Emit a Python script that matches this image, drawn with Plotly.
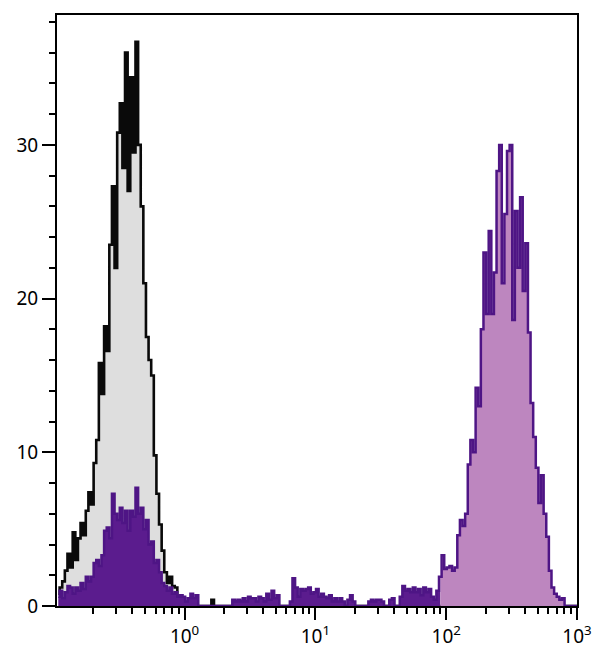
import plotly.graph_objects as go
import numpy as np

# Histogram channels: log10 bin centres start and step (channel scale)
LOG_BIN_START = -0.965
LOG_BIN_STEP = 0.02
N_BINS = 200

# Isotype control (black outline, grey fill) counts per channel
isotype_counts = [
    0.8, 1.2, 1.6, 2.3, 3.4, 2.5, 4.8, 3.0, 4.4, 5.4,
    4.6, 6.2, 7.4, 6.6, 9.3, 10.8, 15.8, 13.8, 18.2, 16.6,
    23.5, 27.3, 22.0, 30.8, 32.7, 28.5, 36.0, 27.0, 34.4, 29.5,
    36.7, 30.0, 26.0, 21.0, 17.5, 16.0, 15.0, 9.8, 7.3, 5.3,
    3.6, 2.2, 1.5, 1.9, 1.3, 1.2, 0.5, 0, 0, 0,
    0, 0, 0, 0, 0, 0, 0, 0, 0, 0.4,
    0, 0, 0, 0, 0, 0, 0, 0, 0, 0,
    0, 0, 0, 0, 0, 0, 0, 0, 0, 0,
    0, 0, 0, 0, 0, 0, 0, 0, 0, 0,
    0, 0, 0, 0, 0, 0, 0, 0, 0, 0,
    0, 0, 0, 0, 0, 0, 0, 0, 0, 0,
    0, 0, 0, 0, 0, 0, 0, 0, 0, 0,
    0, 0, 0, 0, 0, 0, 0, 0, 0, 0,
    0, 0, 0, 0, 0, 0, 0, 0, 0, 0,
    0, 0, 0, 0, 0, 0, 0, 0, 0, 0,
    0, 0, 0, 0, 0, 0, 0, 0, 0, 0,
    0, 0, 0, 0, 0, 0, 0, 0, 0, 0,
    0, 0, 0, 0, 0, 0, 0, 0, 0, 0,
    0, 0, 0, 0, 0, 0, 0, 0, 0, 0,
    0, 0, 0, 0, 0, 0, 0, 0, 0, 0,
]

# Stained sample (purple) counts per channel
stained_counts = [
    0.6, 1.0, 0.5, 0.9, 1.3, 1.2, 0.8, 1.2, 1.0, 1.5,
    1.1, 1.9, 1.6, 1.9, 2.8, 3.0, 2.6, 3.3, 4.9, 5.1,
    4.4, 7.3, 6.0, 5.6, 6.4, 5.4, 6.2, 4.9, 6.2, 5.8,
    7.7, 6.0, 6.4, 5.0, 5.6, 4.0, 4.2, 2.8, 3.0, 2.2,
    1.5, 1.3, 1.0, 1.2, 0.8, 0.9, 0.6, 0.7, 0.6, 0.3,
    0.5, 0.8, 0.5, 0.7, 0, 0, 0, 0, 0, 0,
    0, 0, 0, 0, 0, 0, 0, 0.4, 0.3, 0.4,
    0.3, 0.5, 0.3, 0.6, 0.5, 0.5, 0.3, 0.6, 0.5, 0.3,
    0.8, 0.4, 1.0, 0.5, 0.7, 0, 0, 0, 0, 0.3,
    1.8, 1.2, 0.6, 1.1, 1.0, 1.1, 1.2, 0.8, 0.9, 1.1,
    0.6, 0.8, 0.6, 0.5, 0.7, 0.3, 0.5, 0.3, 0.5, 0.3,
    0, 0.4, 0.7, 0.3, 0, 0, 0, 0, 0, 0.3,
    0.4, 0.3, 0.4, 0.4, 0.3, 0, 0, 0.4, 0.5, 0,
    0, 0.6, 1.3, 1.0, 1.1, 0.9, 1.2, 0.9, 1.1, 0.7,
    1.2, 0.9, 1.1, 0.6, 0.4, 1.0, 1.9, 3.3, 2.4, 2.5,
    2.6, 2.3, 2.5, 4.6, 5.6, 5.2, 6.0, 9.2, 10.8, 10.0,
    14.2, 13.0, 18.0, 23.0, 19.0, 24.4, 19.0, 21.7, 28.3, 30.0,
    21.0, 25.5, 29.6, 30.0, 18.6, 25.7, 22.0, 26.6, 20.5, 23.6,
    17.8, 13.2, 11.0, 9.0, 6.7, 8.5, 6.0, 4.5, 2.3, 1.2,
    0.8, 0.6, 0.4, 0.5, 0, 0, 0, 0, 0, 0,
]

x_tick_vals = [1, 10, 100, 1000]
x_tick_text = ["10<sup>0</sup>", "10<sup>1</sup>", "10<sup>2</sup>", "10<sup>3</sup>"]
x_minor_vals = [m * d for d in (0.1, 1, 10, 100) for m in range(2, 10)]
y_tick_vals = [0, 10, 20, 30]

x = 10 ** (LOG_BIN_START + LOG_BIN_STEP * np.arange(N_BINS))

SPLIT = 146  # channel where the stained fill changes tone

fig = go.Figure()
fig.add_trace(go.Scatter(
    x=x, y=isotype_counts, mode="lines", line=dict(color="#0a0a0a", width=2.6, shape="hvh"),
    fill="tozeroy", fillcolor="#dedede", hoverinfo="skip"))
fig.add_trace(go.Scatter(
    x=x[:SPLIT + 1], y=stained_counts[:SPLIT + 1], mode="lines",
    line=dict(color="rgba(0,0,0,0)", width=0, shape="hvh"),
    fill="tozeroy", fillcolor="#5b1c8e", hoverinfo="skip"))
fig.add_trace(go.Scatter(
    x=x[SPLIT:], y=stained_counts[SPLIT:], mode="lines",
    line=dict(color="rgba(0,0,0,0)", width=0, shape="hvh"),
    fill="tozeroy", fillcolor="#bd86bf", hoverinfo="skip"))
fig.add_trace(go.Scatter(
    x=x, y=stained_counts, mode="lines", line=dict(color="#4e1585", width=2.5, shape="hvh"),
    hoverinfo="skip"))

font = dict(family="Noto Sans, DejaVu Sans, sans-serif", size=19, color="#000000")

fig.update_layout(
    width=600, height=658,
    margin=dict(l=57, r=23, t=15, b=52),
    paper_bgcolor="white", plot_bgcolor="white",
    showlegend=False,
    font=font,
)
fig.update_xaxes(
    type="log", range=[-0.975, 3.0],
    tickvals=x_tick_vals, ticktext=x_tick_text,
    ticks="outside", ticklen=12, tickwidth=2, tickcolor="black",
    minor=dict(tickvals=x_minor_vals, ticks="outside", ticklen=6, tickwidth=2, tickcolor="black"),
    showline=True, linecolor="black", linewidth=2, mirror=True,
    showgrid=False, zeroline=False, layer="above traces",
    tickfont=font, automargin=False,
)
fig.update_yaxes(
    range=[0, 38.45],
    tickvals=y_tick_vals,
    ticks="outside", ticklen=13, tickwidth=2, tickcolor="black",
    minor=dict(dtick=2, ticks="outside", ticklen=6, tickwidth=2, tickcolor="black"),
    showline=True, linecolor="black", linewidth=2, mirror=True,
    showgrid=False, zeroline=False, layer="above traces",
    tickfont=font, automargin=False,
)

fig.write_html(
    "out.html",
    config={"displayModeBar": False},
    post_script="document.body.style.margin='0';document.body.style.overflow='hidden';",
)
